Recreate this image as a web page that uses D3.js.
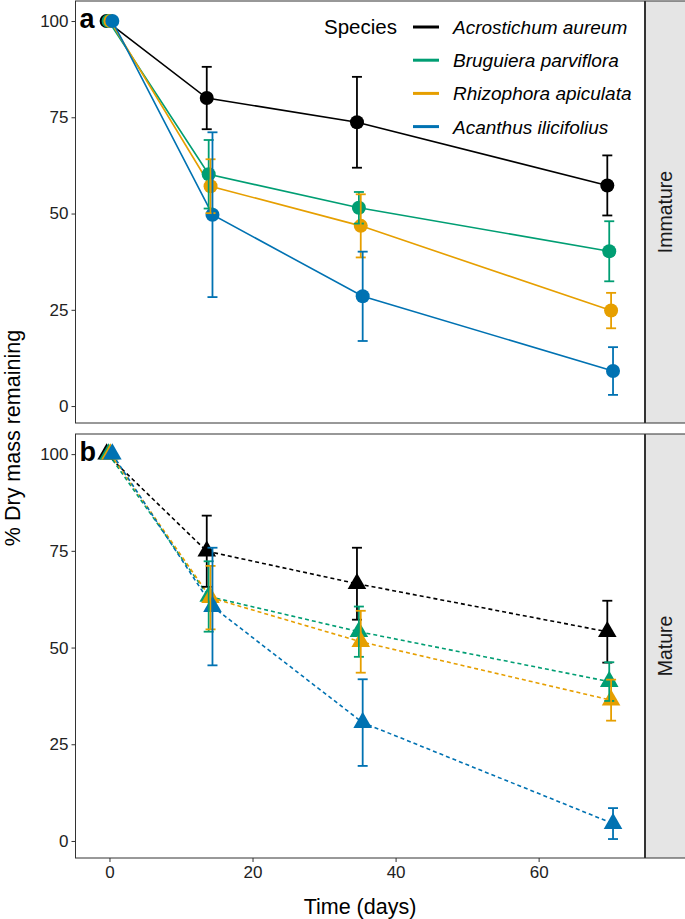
<!DOCTYPE html>
<html><head><meta charset="utf-8">
<script src="https://cdn.jsdelivr.net/npm/d3@7"></script>
<style>body{margin:0;background:#fff}svg{display:block}text{font-family:"Liberation Sans",Arial,sans-serif}</style>
</head><body>
<script>
const species = ["Acrostichum aureum","Bruguiera parviflora","Rhizophora apiculata","Acanthus ilicifolius"];
const colors = ["#000000","#009E73","#E69F00","#0072B2"];
const days = [0,14,35,70];
const stages = ["Immature","Mature"];
const panelLabels = ["a","b"];
// mean % dry mass remaining [species][day]
const immatureMean = [[100,80.0,73.7,57.3],[100,60.2,51.5,40.2],[100,57.1,46.8,24.8],[100,49.7,28.5,9.1]];
const immatureErr  = [[0,8.1,11.8,7.8],[0,8.9,4.1,7.8],[0,7.0,8.2,4.6],[0,21.4,11.6,6.2]];
const matureMean   = [[100,74.9,66.5,54.1],[100,63.2,54.1,41.2],[100,62.9,51.5,36.4],[100,60.6,30.6,4.5]];
const matureErr    = [[0,9.2,9.3,8.0],[0,9.1,6.5,5.0],[0,8.2,8.0,5.3],[0,15.2,11.2,4.0]];
const yTicks = [0,25,50,75,100];
const xTicks = [0,20,40,60];
const dodge = [-0.4,-0.13,0.13,0.4];

const W=685,H=919;
const svg=d3.select("body").append("svg").attr("width",W).attr("height",H);
const left=75.5,right=644.5,stripW=40;
const panels=[{top:1,bottom:423,mean:immatureMean,err:immatureErr,shape:"circle",dash:null},
              {top:434,bottom:858,mean:matureMean,err:matureErr,shape:"triangle",dash:"4,3"}];
const x=d3.scaleLinear().domain([-4.75,74.8]).range([left,right]);

panels.forEach((p,pi)=>{
  const y=d3.scaleLinear().domain([-4.4,105.2]).range([p.bottom,p.top]);
  const g=svg.append("g");
  g.append("rect").attr("x",left).attr("y",p.top).attr("width",right-left).attr("height",p.bottom-p.top).attr("fill","#fff");
  // strip
  g.append("rect").attr("x",right+1).attr("y",p.top).attr("width",stripW).attr("height",p.bottom-p.top).attr("fill","#e5e5e5").attr("stroke","#333").attr("stroke-width",1);
  g.append("text").attr("transform",`translate(672,${(p.top+p.bottom)/2}) rotate(-90)`).attr("text-anchor","middle").attr("font-size",19.5).attr("fill","#1a1a1a").text(stages[pi]);
  // y axis
  const ya=g.append("g").attr("transform",`translate(${left},0)`).call(d3.axisLeft(y).tickValues(yTicks).tickSize(4).tickPadding(3));
  ya.select(".domain").remove();
  ya.selectAll("line").attr("stroke","#333").attr("stroke-width",1);
  ya.selectAll("text").attr("font-size",17).attr("fill","#222").attr("font-family","Liberation Sans, Arial, sans-serif");
  const clip=g.append("g");
  const data=species.map((s,si)=>days.map((d,di)=>({si,d,xv:d+dodge[si],v:p.mean[si][di],e:p.err[si][di]})));
  // lines
  const line=d3.line().x(d=>x(d.xv)).y(d=>y(d.v));
  data.forEach((ser,si)=>{
    clip.append("path").attr("d",line(ser)).attr("fill","none").attr("stroke",colors[si]).attr("stroke-width",1.6).attr("stroke-dasharray",p.dash);
  });
  // points
  data.forEach((ser,si)=>{
    ser.forEach(d=>{
      if(p.shape==="circle"){
        clip.append("circle").attr("cx",x(d.xv)).attr("cy",y(d.v)).attr("r",7).attr("fill",colors[si]);
      } else {
        clip.append("path").attr("transform",`translate(${x(d.xv)},${y(d.v)})`).attr("d",d3.symbol(d3.symbolTriangle,150)()).attr("fill",colors[si]);
      }
    });
  });
  // error bars
  data.forEach((ser,si)=>{
    ser.filter(d=>d.e>0).forEach(d=>{
      const cx=x(d.xv),y1=y(d.v+d.e),y2=y(d.v-d.e);
      const eg=clip.append("g").attr("stroke",colors[si]).attr("stroke-width",1.8);
      eg.append("line").attr("x1",cx).attr("x2",cx).attr("y1",y1).attr("y2",y2);
      eg.append("line").attr("x1",cx-5).attr("x2",cx+5).attr("y1",y1).attr("y2",y1);
      eg.append("line").attr("x1",cx-5).attr("x2",cx+5).attr("y1",y2).attr("y2",y2);
    });
  });
  // border
  g.append("rect").attr("x",left).attr("y",p.top).attr("width",right-left).attr("height",p.bottom-p.top).attr("fill","none").attr("stroke","#333").attr("stroke-width",1);
  g.append("text").attr("x",left+4).attr("y",p.top+27).attr("font-size",27).attr("font-weight","bold").attr("fill","#000").text(panelLabels[pi]);
  if(pi===1){
    const xa=g.append("g").attr("transform",`translate(0,${p.bottom})`).call(d3.axisBottom(x).tickValues(xTicks).tickSize(4).tickPadding(4));
    xa.select(".domain").remove();
    xa.selectAll("line").attr("stroke","#333");
    xa.selectAll("text").attr("font-size",17).attr("fill","#222").attr("font-family","Liberation Sans, Arial, sans-serif");
  }
});

// axis titles
svg.append("text").attr("transform","translate(20,438) rotate(-90)").attr("text-anchor","middle").attr("font-size",21.5).attr("fill","#000").text("% Dry mass remaining");
svg.append("text").attr("x",(left+right)/2).attr("y",914).attr("text-anchor","middle").attr("font-size",21.5).attr("fill","#000").text("Time (days)");

// legend
const lg=svg.append("g");
lg.append("text").attr("x",324).attr("y",34).attr("font-size",20.5).attr("fill","#000").text("Species");
species.forEach((s,i)=>{
  const yy=27+i*33.2;
  lg.append("line").attr("x1",413).attr("x2",439).attr("y1",yy).attr("y2",yy).attr("stroke",colors[i]).attr("stroke-width",3);
  lg.append("text").attr("x",453).attr("y",yy+7).attr("font-size",19).attr("font-style","italic").attr("fill","#000").text(s);
});
</script>
</body></html>
